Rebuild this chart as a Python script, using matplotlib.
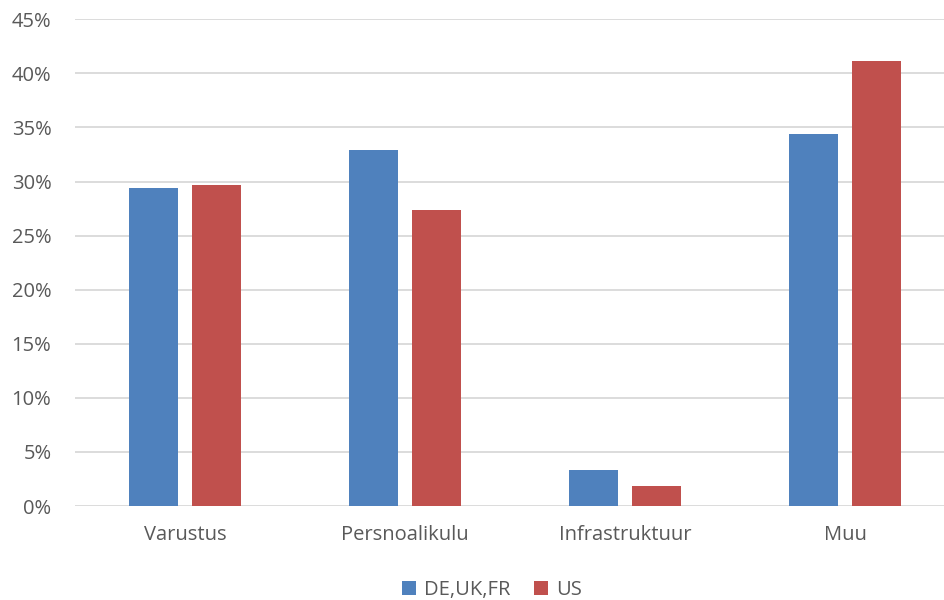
import matplotlib
matplotlib.use("Agg")
import matplotlib.pyplot as plt
from matplotlib.ticker import FuncFormatter
import numpy as np

categories = ["Varustus", "Persnoalikulu", "Infrastruktuur", "Muu"]
series_names = ["DE,UK,FR", "US"]
de_uk_fr = [29.4, 32.9, 3.3, 34.4]
us = [29.7, 27.4, 1.85, 41.1]
yticks = [0, 5, 10, 15, 20, 25, 30, 35, 40, 45]

plt.rcParams['font.family'] = ['Open Sans', 'DejaVu Sans']
fig = plt.figure(figsize=(9.44, 6.0), dpi=100)
ax = fig.add_axes([75/944, (600-506)/600, 880/944, (506-19.3)/600])

x = np.arange(len(categories))
w = 0.223
off = 0.142
c1 = "#4F81BD"
c2 = "#C0504D"
ax.bar(x - off, de_uk_fr, width=w, color=c1, label=series_names[0], zorder=3)
ax.bar(x + off, us, width=w, color=c2, label=series_names[1], zorder=3)

ax.set_xlim(-0.5, len(categories) - 0.5)
ax.set_ylim(0, 45)
ax.set_yticks(yticks)
ax.yaxis.set_major_formatter(FuncFormatter(lambda v, p: f"{int(v)}%"))
ax.set_xticks(x)
ax.set_xticklabels(categories)
ax.grid(axis='y', color='#D9D9D9', linewidth=1.3, zorder=0)
for s in ax.spines.values():
    s.set_visible(False)
ax.tick_params(axis='both', length=0, labelsize=14.5, colors='#595959')
ax.tick_params(axis='x', pad=14)
ax.tick_params(axis='y', pad=17)

fig.legend(loc='center', bbox_to_anchor=(492/944, 1 - 590/600), ncol=2, frameon=False,
           fontsize=14.5, labelcolor='#595959', handlelength=0.7, handleheight=0.7,
           handletextpad=0.4, columnspacing=1.2)

fig.savefig("out.png", dpi=100)
